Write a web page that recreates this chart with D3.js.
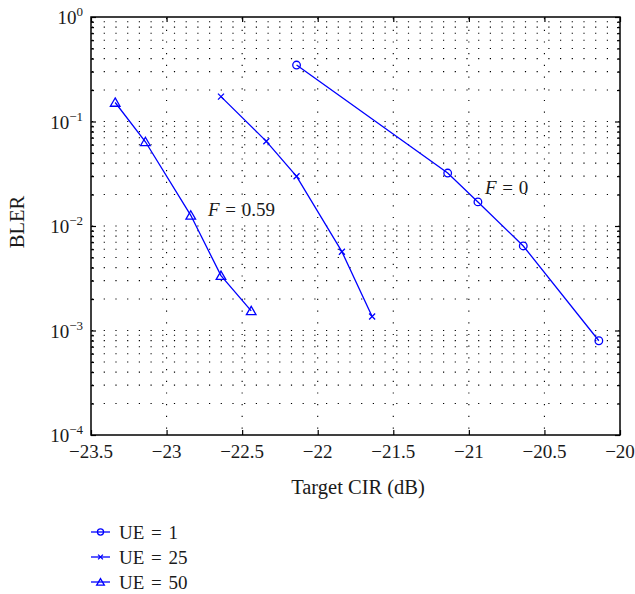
<!DOCTYPE html>
<html><head><meta charset="utf-8">
<script src="https://cdn.jsdelivr.net/npm/d3@7"></script>
<style>body{margin:0;background:#fff}svg{font-family:"Liberation Serif","Times New Roman",serif}</style>
</head><body><svg id="c" width="635" height="594"></svg>
<script>
// Tick values
const xTicks = [-23.5, -23, -22.5, -22, -21.5, -21, -20.5, -20];
const yExps = [0, -1, -2, -3, -4];

// BLER vs target CIR, one series per number of UEs
const ue1X = [-22.14, -21.14, -20.94, -20.64, -20.14];
const ue1Y = [0.347, 0.0321, 0.0170, 0.00644, 0.000798];
const ue25X = [-22.64, -22.34, -22.14, -21.84, -21.64];
const ue25Y = [0.173, 0.0646, 0.0299, 0.00568, 0.00136];
const ue50X = [-23.34, -23.14, -22.84, -22.64, -22.44];
const ue50Y = [0.152, 0.064, 0.01265, 0.00335, 0.00154];
const seriesNames = ["UE = 1", "UE = 25", "UE = 50"];
const seriesMarkers = ["circle", "cross", "triangle"];

const m = {l: 91, r: 620, t: 17, b: 435};
const blue = "#0000ff";
const ink = "#1a1a1a";
const svg = d3.select("#c");

const x = d3.scaleLinear().domain([-23.5, -20]).range([m.l, m.r]);
const y = d3.scaleLog().domain([1e-4, 1]).range([m.b, m.t]);

// dotted grid: every minor decade step horizontally, major ticks vertically
const minorY = [];
for (let e = -4; e < 0; e++) for (let k = 1; k <= 9; k++) minorY.push(k * Math.pow(10, e));
minorY.push(1);
const grid = svg.append("g").attr("stroke", "#000").attr("stroke-width", 1.1)
  .attr("stroke-dasharray", "1.2,10.5");
grid.selectAll("line.h").data(minorY.filter(v => v > 1e-4 && v < 1)).join("line")
  .attr("x1", m.l + 1).attr("x2", m.r - 1).attr("y1", d => y(d)).attr("y2", d => y(d));
grid.selectAll("line.v").data(xTicks.slice(1, -1)).join("line")
  .attr("x1", d => x(d)).attr("x2", d => x(d)).attr("y1", m.t + 1).attr("y2", m.b - 1);

// axes with inward ticks on all four sides
const fmtNone = () => "";
svg.append("g").attr("transform", `translate(0,${m.b})`)
  .call(d3.axisBottom(x).tickValues(xTicks).tickSize(-5).tickFormat(fmtNone));
svg.append("g").attr("transform", `translate(0,${m.t})`)
  .call(d3.axisTop(x).tickValues(xTicks).tickSize(-5).tickFormat(fmtNone));
const majorY = yExps.map(e => Math.pow(10, e));
const minorOnly = minorY.filter(v => !majorY.some(M => Math.abs(M - v) < 1e-12));
svg.append("g").attr("transform", `translate(${m.l},0)`)
  .call(d3.axisLeft(y).tickValues(majorY).tickSize(-5).tickFormat(fmtNone));
svg.append("g").attr("transform", `translate(${m.l},0)`)
  .call(d3.axisLeft(y).tickValues(minorOnly).tickSize(-3).tickFormat(fmtNone));
svg.append("g").attr("transform", `translate(${m.r},0)`)
  .call(d3.axisRight(y).tickValues(majorY).tickSize(-5).tickFormat(fmtNone));
svg.append("g").attr("transform", `translate(${m.r},0)`)
  .call(d3.axisRight(y).tickValues(minorOnly).tickSize(-3).tickFormat(fmtNone));
svg.selectAll(".tick line").attr("stroke-width", 1.2);
svg.selectAll(".domain").remove();
svg.append("rect").attr("x", m.l).attr("y", m.t).attr("width", m.r - m.l).attr("height", m.b - m.t)
  .attr("fill", "none").attr("stroke", "#000").attr("stroke-width", 1.5);

// tick labels
const lab = svg.append("g").attr("fill", ink).attr("font-size", 19);
lab.selectAll("text.x").data(xTicks).join("text")
  .attr("x", d => x(d)).attr("y", m.b + 23).attr("text-anchor", "middle")
  .text(d => d3.format("")(d).replace("-", "\u2212\u200a"));
yExps.forEach(e => {
  const t = lab.append("text").attr("x", m.l - 8).attr("y", y(Math.pow(10, e)) + 7).attr("text-anchor", "end");
  t.append("tspan").text("10");
  t.append("tspan").attr("dy", -8).attr("font-size", 13).text(String(e).replace("-", "\u2212"));
});

// axis titles
svg.append("text").attr("x", 358).attr("y", 494).attr("text-anchor", "middle")
  .attr("font-size", 20.5).attr("fill", ink).text("Target CIR (dB)");
svg.append("text").attr("transform", "translate(24,222) rotate(-90)")
  .attr("text-anchor", "middle").attr("font-size", 20.5).attr("fill", ink).text("BLER");

// markers
function marker(g, kind, cx, cy, scale) {
  if (kind === "circle") {
    g.append("circle").attr("cx", cx).attr("cy", cy).attr("r", 3.8 * scale);
  } else if (kind === "cross") {
    const s = 3 * scale;
    g.append("path").attr("d", `M${cx - s},${cy - s}L${cx + s},${cy + s}M${cx - s},${cy + s}L${cx + s},${cy - s}`);
  } else {
    g.append("path").attr("transform", `translate(${cx},${cy + 1})`)
      .attr("d", d3.symbol(d3.symbolTriangle, 40 * scale * scale)());
  }
}

const series = [[ue1X, ue1Y], [ue25X, ue25Y], [ue50X, ue50Y]];
const line = d3.line().x(d => x(d[0])).y(d => y(d[1]));
series.forEach(([xs, ys], i) => {
  const pts = xs.map((v, j) => [v, ys[j]]);
  const g = svg.append("g").attr("stroke", blue).attr("fill", "none").attr("stroke-width", 1.3);
  g.append("path").attr("d", line(pts));
  pts.forEach(p => marker(g, seriesMarkers[i], x(p[0]), y(p[1]), 1));
});

// annotations
function fLabel(px, py, val) {
  const t = svg.append("text").attr("x", px).attr("y", py).attr("font-size", 19).attr("fill", ink)
    .attr("word-spacing", 1);
  t.append("tspan").attr("font-style", "italic").text("F");
  t.append("tspan").text(" = " + val);
}
fLabel(208, 216, "0.59");
fLabel(485, 193.5, "0");

// legend
const leg = svg.append("g");
seriesNames.forEach((name, i) => {
  const ly = 532 + i * 25;
  const g = leg.append("g").attr("stroke", blue).attr("fill", "none").attr("stroke-width", 1.3);
  g.append("line").attr("x1", 91).attr("x2", 110).attr("y1", ly).attr("y2", ly);
  marker(g, seriesMarkers[i], 100.5, ly, 0.8);
  leg.append("text").attr("x", 119).attr("y", ly + 6.5).attr("font-size", 19).attr("fill", ink)
    .attr("word-spacing", 2).text(name);
});
</script>
</body></html>
